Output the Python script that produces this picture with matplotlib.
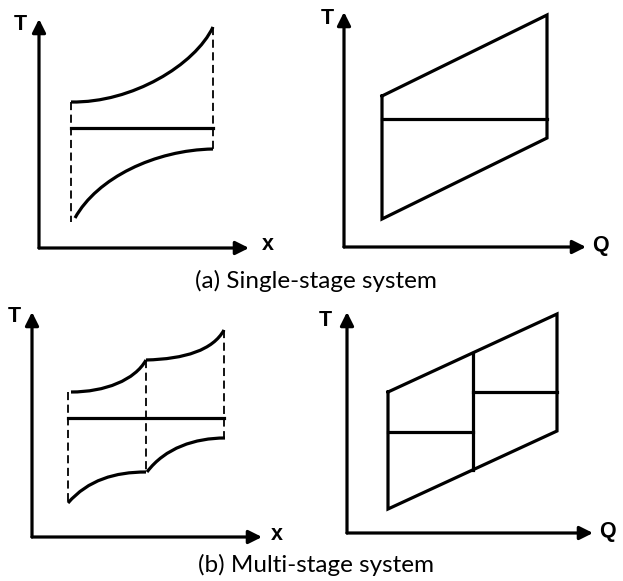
import matplotlib.pyplot as plt
from matplotlib.path import Path
from matplotlib.patches import PathPatch

# all coordinates are in picture pixels (y grows downwards)

# axes: origin, tip of vertical arrow, tip of horizontal arrow
axes_origin = [(39, 248), (344, 247), (32, 537), (347, 533)]
axes_ytip = [(39, 19), (344, 12), (32, 312), (347, 312)]
axes_xtip = [(249, 248), (586, 247), (262, 537), (593, 533)]
y_labels = ['T', 'T', 'T', 'T']
y_label_pos = [(20, 24), (327, 19), (14, 317), (325, 320)]
x_labels = ['x', 'Q', 'x', 'Q']
x_label_pos = [(268, 245), (600, 246), (277, 535), (607, 531)]

captions = ['(a) Single-stage system', '(b) Multi-stage system']
caption_pos = [(316, 281), (316, 565)]

# (a) single stage, T-x diagram: bezier control points of the two curves
single_upper = [(71, 102), (132, 103), (195, 65), (213, 27)]
single_lower = [(75, 218), (97, 178), (155, 150), (213, 149)]
single_mid_x = [71, 213]
single_mid_y = 128
single_dash_x = [71, 213]
single_dash_top = [102, 27]
single_dash_bot = [222, 149]

# (a) single stage, T-Q diagram
single_box_x = [382, 547]
single_box_top = [96, 15]
single_box_bot = [219, 138]
single_box_mid = 119

# (b) multi stage, T-x diagram: two bezier segments per curve
multi_upper = [[(71, 392), (105, 392), (135, 380), (146, 360)],
               [(146, 360), (185, 359), (213, 350), (224, 330)]]
multi_lower = [[(68, 503), (88, 480), (115, 472), (146, 472)],
               [(147, 472), (165, 448), (195, 438), (225, 438)]]
multi_mid_x = [68, 224]
multi_mid_y = 418
multi_dash_x = [68, 146, 224]
multi_dash_top = [392, 360, 330]
multi_dash_bot = [503, 472, 438]

# (b) multi stage, T-Q diagram
multi_box_x = [388, 473, 557]
multi_box_top = [392, 353, 314]
multi_box_bot = [509, 470, 431]
multi_box_steps = [432, 392]

LW = 2.3
fig = plt.figure(figsize=(6.23, 5.81), dpi=100)
ax = fig.add_axes([0, 0, 1, 1])
ax.set_xlim(0, 623)
ax.set_ylim(581, 0)
ax.axis('off')


def bezier(pts):
    path = Path(pts, [Path.MOVETO, Path.CURVE4, Path.CURVE4, Path.CURVE4])
    ax.add_patch(PathPatch(path, fill=False, lw=LW, color='black', capstyle='butt'))


def arrow(start, tip):
    ax.annotate('', xy=tip, xytext=start,
                arrowprops=dict(arrowstyle='-|>', lw=LW, color='black',
                                mutation_scale=20, shrinkA=0, shrinkB=0))


def dashed(x, y0, y1):
    ax.plot([x, x], [y0, y1], color='black', lw=1.3, dashes=(4.5, 2.5))


def line(xs, ys):
    ax.plot(xs, ys, color='black', lw=LW, solid_joinstyle='miter',
            solid_capstyle='projecting')


# axes with arrows
for i in range(4):
    arrow(axes_origin[i], axes_ytip[i])
    arrow(axes_origin[i], axes_xtip[i])
    ax.text(*y_label_pos[i], y_labels[i], ha='center', va='center',
            fontsize=15.5, fontweight='bold', family='Liberation Sans')
    ax.text(*x_label_pos[i], x_labels[i], ha='center', va='center',
            fontsize=15.5, fontweight='bold', family='Liberation Sans')

# (a) T-x
bezier(single_upper)
bezier(single_lower)
ax.plot(single_mid_x, [single_mid_y, single_mid_y], color='black', lw=LW)
for i in range(2):
    dashed(single_dash_x[i], single_dash_top[i], single_dash_bot[i])

# (a) T-Q: closed outline plus the middle line
bx = single_box_x
line([bx[0], bx[1], bx[1], bx[0], bx[0]],
     [single_box_top[0], single_box_top[1], single_box_bot[1], single_box_bot[0], single_box_top[0]])
ax.plot(bx, [single_box_mid] * 2, color='black', lw=LW)

# (b) T-x
for seg in multi_upper + multi_lower:
    bezier(seg)
ax.plot(multi_mid_x, [multi_mid_y, multi_mid_y], color='black', lw=LW)
for i in range(3):
    dashed(multi_dash_x[i], multi_dash_top[i], multi_dash_bot[i])

# (b) T-Q
mx = multi_box_x
line([mx[0], mx[2], mx[2], mx[0], mx[0]],
     [multi_box_top[0], multi_box_top[2], multi_box_bot[2], multi_box_bot[0], multi_box_top[0]])
ax.plot([mx[1]] * 2, [multi_box_top[1], multi_box_bot[1]], color='black', lw=LW)
ax.plot(mx[:2], [multi_box_steps[0]] * 2, color='black', lw=LW)
ax.plot(mx[1:], [multi_box_steps[1]] * 2, color='black', lw=LW)

for txt, pos in zip(captions, caption_pos):
    ax.text(*pos, txt, ha='center', va='center', fontsize=17.5, family='Lato')

fig.savefig('out.png', dpi=100)
